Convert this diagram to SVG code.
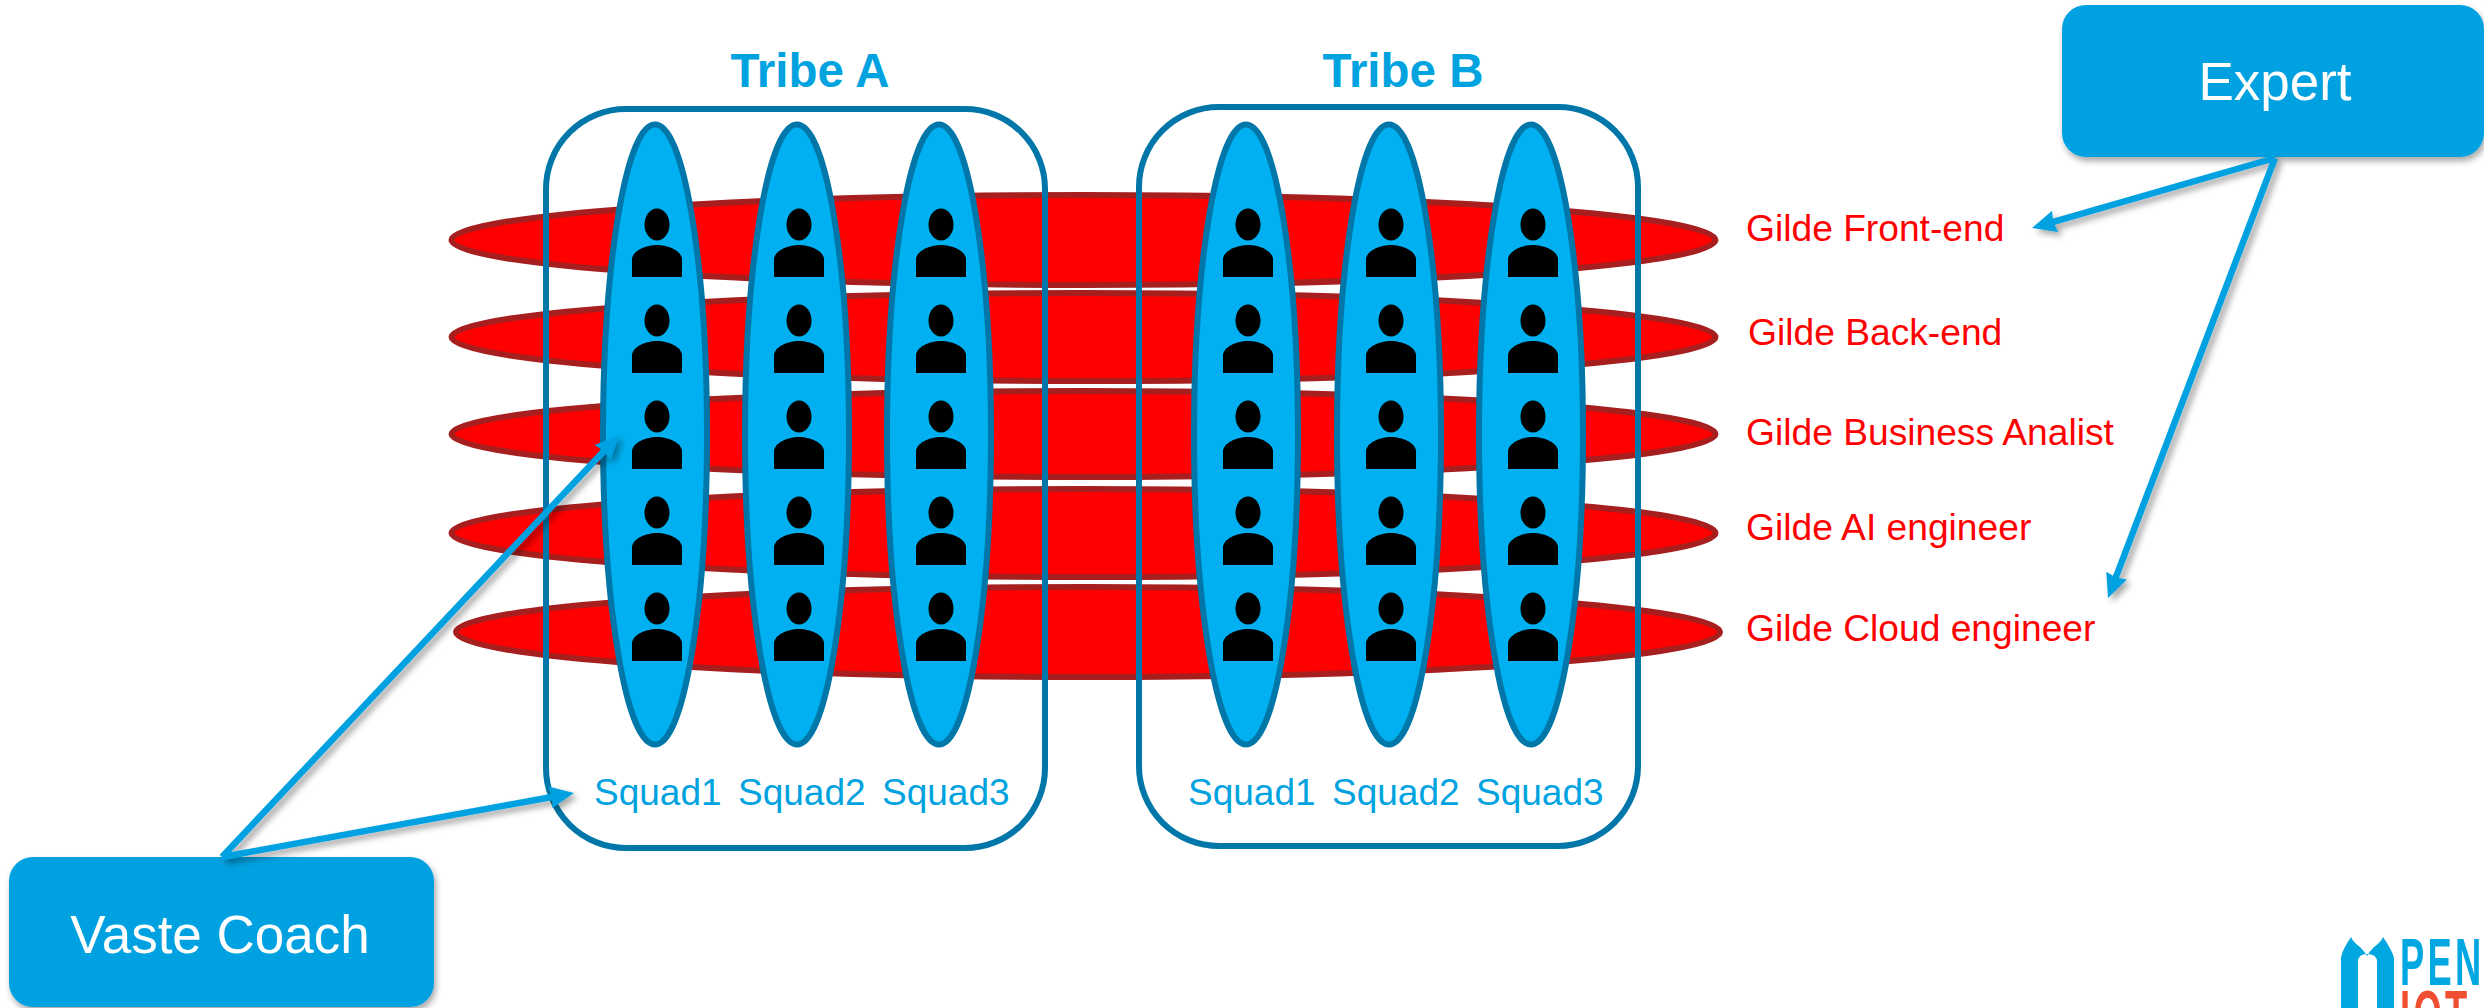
<svg xmlns="http://www.w3.org/2000/svg" width="2484" height="1008" viewBox="0 0 2484 1008">
<style>
text{font-family:"Liberation Sans",Arial,sans-serif}
.gilde{fill:#ff0000;stroke:#a61e1e;stroke-width:6}
.squad{fill:#00b0f0;stroke:#0077a8;stroke-width:6}
.tribe{fill:none;stroke:#0077a8;stroke-width:6}
.tt{font-size:47.500px;font-weight:bold;fill:#00a3e0;text-anchor:middle}
.sq{font-size:37px;fill:#00a3e0}
.gl{font-size:37.200px;fill:#ff0000}
.box{fill:#03a1e0;filter:url(#ds)}
.bt{font-size:53px;fill:#fff;text-anchor:middle}
.con{stroke:#03a1e0;stroke-width:6.500;fill:none;marker-end:url(#ah)}
</style>
<defs>
<filter id="ds" x="-10%" y="-10%" width="120%" height="120%"><feDropShadow dx="2" dy="4" stdDeviation="3" flood-color="#000" flood-opacity=".35"/></filter>
<filter id="ls" filterUnits="userSpaceOnUse" x="0" y="0" width="2484" height="1008"><feDropShadow dx="4" dy="4" stdDeviation="3" flood-color="#000" flood-opacity=".35"/></filter>
<marker id="ah" markerUnits="userSpaceOnUse" markerWidth="26" markerHeight="24" refX="10" refY="12" orient="auto"><path d="M0 1L24 12L0 23L2 12Z" fill="#03a1e0"/></marker>
<g id="person"><ellipse cx="0" cy="0" rx="12.500" ry="16"/><path d="M-25 52.500V34C-24 27-13 20.500 0 20.500S24 27 25 34V52.500Z"/></g>
</defs>
<g id="gilde-frontend"><ellipse class="gilde" cx="1083.500" cy="240" rx="632" ry="45"/></g>
<g id="gilde-backend"><ellipse class="gilde" cx="1083.500" cy="337" rx="632" ry="44"/></g>
<g id="gilde-ba"><ellipse class="gilde" cx="1083.500" cy="434" rx="632" ry="43"/></g>
<g id="gilde-ai"><ellipse class="gilde" cx="1083.500" cy="533" rx="632" ry="44"/></g>
<g id="gilde-cloud"><ellipse class="gilde" cx="1088" cy="632" rx="632" ry="45"/></g>
<g id="tribe-a"><rect class="tribe" x="546" y="109" width="499" height="739" rx="80" ry="80"/><text class="tt" x="810" y="87">Tribe A</text></g>
<g id="tribe-b"><rect class="tribe" x="1139" y="107" width="499" height="739" rx="80" ry="80"/><text class="tt" x="1403" y="87">Tribe B</text></g>
<g id="a-squad1"><ellipse class="squad" cx="655" cy="434.500" rx="52" ry="310"/><use href="#person" x="657" y="224.500"/><use href="#person" x="657" y="320.500"/><use href="#person" x="657" y="416.500"/><use href="#person" x="657" y="512.500"/><use href="#person" x="657" y="608.500"/><text class="sq" x="594" y="805">Squad1</text></g>
<g id="a-squad2"><ellipse class="squad" cx="797" cy="434.500" rx="52" ry="310"/><use href="#person" x="799" y="224.500"/><use href="#person" x="799" y="320.500"/><use href="#person" x="799" y="416.500"/><use href="#person" x="799" y="512.500"/><use href="#person" x="799" y="608.500"/><text class="sq" x="738" y="805">Squad2</text></g>
<g id="a-squad3"><ellipse class="squad" cx="939" cy="434.500" rx="52" ry="310"/><use href="#person" x="941" y="224.500"/><use href="#person" x="941" y="320.500"/><use href="#person" x="941" y="416.500"/><use href="#person" x="941" y="512.500"/><use href="#person" x="941" y="608.500"/><text class="sq" x="882" y="805">Squad3</text></g>
<g id="b-squad1"><ellipse class="squad" cx="1246" cy="434.500" rx="52" ry="310"/><use href="#person" x="1248" y="224.500"/><use href="#person" x="1248" y="320.500"/><use href="#person" x="1248" y="416.500"/><use href="#person" x="1248" y="512.500"/><use href="#person" x="1248" y="608.500"/><text class="sq" x="1188" y="805">Squad1</text></g>
<g id="b-squad2"><ellipse class="squad" cx="1389" cy="434.500" rx="52" ry="310"/><use href="#person" x="1391" y="224.500"/><use href="#person" x="1391" y="320.500"/><use href="#person" x="1391" y="416.500"/><use href="#person" x="1391" y="512.500"/><use href="#person" x="1391" y="608.500"/><text class="sq" x="1332" y="805">Squad2</text></g>
<g id="b-squad3"><ellipse class="squad" cx="1531" cy="434.500" rx="52" ry="310"/><use href="#person" x="1533" y="224.500"/><use href="#person" x="1533" y="320.500"/><use href="#person" x="1533" y="416.500"/><use href="#person" x="1533" y="512.500"/><use href="#person" x="1533" y="608.500"/><text class="sq" x="1476" y="805">Squad3</text></g>
<g id="labels">
<text class="gl" x="1746" y="241">Gilde Front-end</text>
<text class="gl" x="1748" y="345">Gilde Back-end</text>
<text class="gl" x="1746" y="445">Gilde Business Analist</text>
<text class="gl" x="1746" y="540">Gilde AI engineer</text>
<text class="gl" x="1746" y="641">Gilde Cloud engineer</text>
</g>
<g id="vaste-coach"><rect class="box" x="9" y="857" width="425" height="150" rx="24"/><text class="bt" x="220" y="953">Vaste Coach</text></g>
<g id="expert"><rect class="box" x="2062" y="5" width="422" height="152" rx="24"/><text class="bt" x="2275" y="100">Expert</text></g>
<g id="connectors" filter="url(#ls)">
<path class="con" d="M222 857L609.400 445.200"/>
<path class="con" d="M222 857L560.200 795.500"/>
<path class="con" d="M2275 158L2045.500 224.100"/>
<path class="con" d="M2275 158L2113 584.900"/>
</g>
<g id="logo">
<path fill="#00a7e0" fill-rule="evenodd" d="M2341 1008V958Q2342 950 2351 937Q2353 942 2360 947Q2365 952 2367 956Q2369 952 2374 947Q2381 942 2383 937Q2392 950 2394 958V1008ZM2358 1008H2377V962Q2377 954 2367 954Q2358 954 2358 962Z"/>
<text transform="translate(2400 985) scale(.55 1)" font-size="66" font-weight="bold" fill="#00a7e0" letter-spacing="6">PEN</text>
<text transform="translate(2400 1037) scale(.55 1)" font-size="66" font-weight="bold" fill="#f04e30" letter-spacing="6">IOT</text>
</g>
</svg>
